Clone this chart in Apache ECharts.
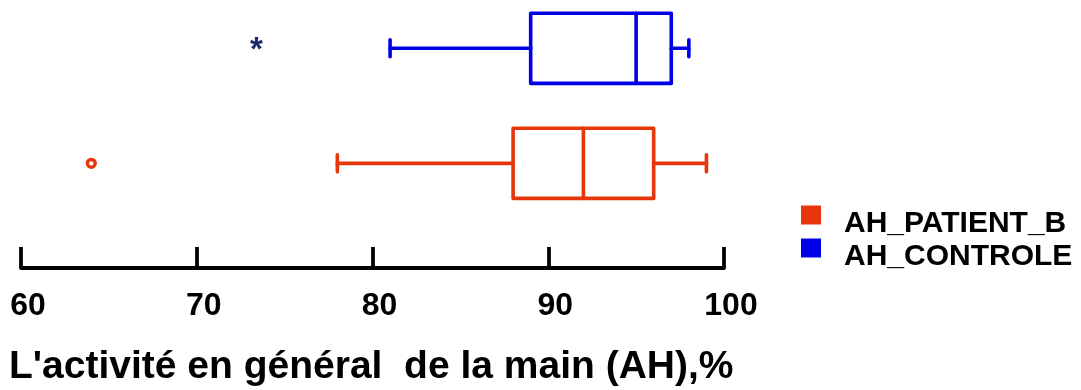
<!DOCTYPE html>
<html>
<head>
<meta charset="utf-8">
<script src="https://cdn.jsdelivr.net/npm/echarts@6/dist/echarts.min.js"></script>
<style>
html,body{margin:0;padding:0;background:#fff;}
#chart{width:1081px;height:390px;}
</style>
</head>
<body>
<div id="chart"></div>
<script>
// ---- data ----
const categories = ['AH_PATIENT_B', 'AH_CONTROLE'];
const lowWhisker = [78, 81];
const q1 = [88, 89];
const median = [92, 95];
const q3 = [96, 97];
const highWhisker = [99, 98];
const outliers = [64, 73.4];
const xTicks = [60, 70, 80, 90, 100];
const axisTitle = "L'activité en général  de la main (AH),%";

const colors = ['#e8360b', '#0000e8'];
const outlierMarkers = ['circle', 'asterisk'];

const FONT = '"Liberation Sans", Arial, sans-serif';

function renderItem(params, api) {
  const cat = api.value(0);
  const pLow = api.coord([api.value(1), cat]);
  const pQ1 = api.coord([api.value(2), cat]);
  const pMed = api.coord([api.value(3), cat]);
  const pQ3 = api.coord([api.value(4), cat]);
  const pHigh = api.coord([api.value(5), cat]);
  const pOut = api.coord([api.value(6), cat]);
  const unit = api.size([0, 1])[1];
  const hh = unit * 0.305;
  const ch = unit * 0.074;
  const y = pMed[1];
  const color = colors[params.seriesIndex];
  const ls = {stroke: color, lineWidth: 3.6, fill: null, lineCap: 'round', lineJoin: 'round'};
  const children = [
    {type: 'line', shape: {x1: pLow[0], y1: y, x2: pQ1[0], y2: y}, style: ls},
    {type: 'line', shape: {x1: pQ3[0], y1: y, x2: pHigh[0], y2: y}, style: ls},
    {type: 'line', shape: {x1: pLow[0], y1: y - ch, x2: pLow[0], y2: y + ch}, style: ls},
    {type: 'line', shape: {x1: pHigh[0], y1: y - ch, x2: pHigh[0], y2: y + ch}, style: ls},
    {type: 'rect', shape: {x: pQ1[0], y: y - hh, width: pQ3[0] - pQ1[0], height: 2 * hh}, style: ls},
    {type: 'line', shape: {x1: pMed[0], y1: y - hh, x2: pMed[0], y2: y + hh}, style: ls}
  ];
  if (outlierMarkers[params.seriesIndex] === 'circle') {
    children.push({type: 'circle', shape: {cx: pOut[0], cy: y, r: 3.9}, style: {stroke: color, lineWidth: 3.4, fill: '#fff'}});
  } else {
    children.push({type: 'text', x: pOut[0], y: y + 3, style: {text: '*', fill: '#1a2a6a', font: 'bold 33px ' + FONT, align: 'center', verticalAlign: 'middle'}});
  }
  return {type: 'group', children: children};
}

const series = categories.map(function (name, i) {
  return {
    name: name,
    type: 'custom',
    renderItem: renderItem,
    itemStyle: {color: colors[i]},
    encode: {x: [1, 2, 3, 4, 5, 6], y: 0},
    data: [[i, lowWhisker[i], q1[i], median[i], q3[i], highWhisker[i], outliers[i]]]
  };
});

const chart = echarts.init(document.getElementById('chart'), null, {renderer: 'canvas'});
chart.setOption({
  animation: false,
  backgroundColor: '#fff',
  title: {
    text: axisTitle,
    left: 9,
    top: 348,
    padding: 0,
    textStyle: {fontFamily: FONT, fontWeight: 'bold', fontSize: 39, color: '#000'}
  },
  legend: {
    orient: 'vertical',
    left: 801,
    top: 191,
    padding: 0,
    itemGap: -15,
    itemWidth: 20,
    itemHeight: 19,
    icon: 'rect',
    data: categories,
    formatter: '{t|{name}}',
    textStyle: {
      fontFamily: FONT, fontWeight: 'bold', fontSize: 30, lineHeight: 30, color: '#000',
      padding: [18, 0, 0, 18],
      rich: {t: {fontFamily: FONT, fontWeight: 'bold', fontSize: 30, lineHeight: 30, color: '#000'}}
    }
  },
  grid: {left: 21, right: 357, top: 0, bottom: 122},
  xAxis: {
    type: 'value',
    position: 'bottom',
    min: xTicks[0],
    max: xTicks[xTicks.length - 1],
    interval: 10,
    axisLine: {show: true, onZero: false, lineStyle: {color: '#000', width: 3.8, cap: 'round'}},
    axisTick: {show: true, inside: true, length: 21, lineStyle: {color: '#000', width: 3.8}},
    splitLine: {show: false},
    axisLabel: {
      margin: 22,
      fontFamily: FONT, fontWeight: 'bold', fontSize: 32, color: '#000',
      padding: [0, 0, 0, 14],
      formatter: function (v) { return xTicks.indexOf(v) >= 0 ? String(v) : ''; }
    }
  },
  yAxis: {
    type: 'value',
    min: -0.91,
    max: 1.42,
    show: false,
    splitLine: {show: false}
  },
  series: series
});
</script>
</body>
</html>
